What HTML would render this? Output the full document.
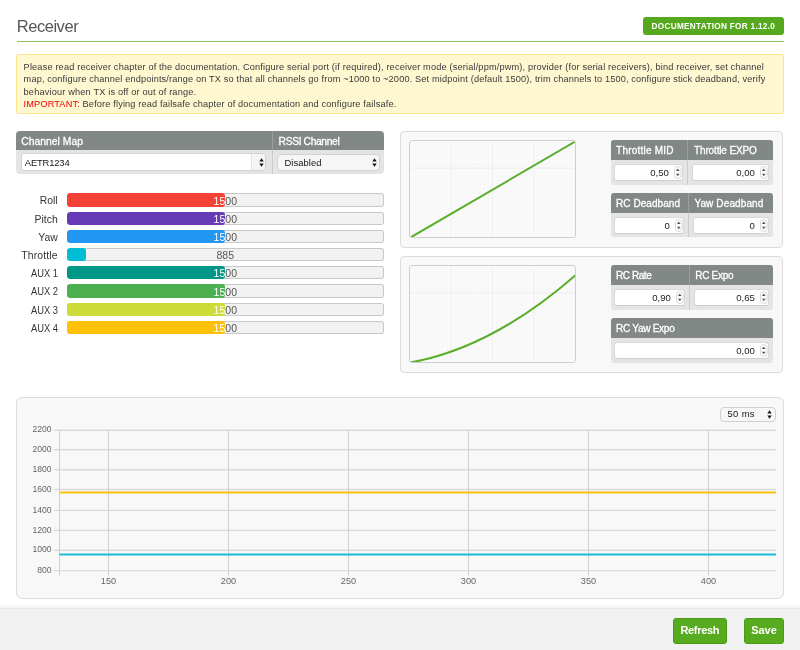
<!DOCTYPE html>
<html><head><meta charset="utf-8"><title>Receiver</title><style>
*{box-sizing:border-box;margin:0;padding:0}
html,body{width:800px;height:650px;overflow:hidden;background:#fff;font-family:"Liberation Sans",sans-serif;color:#404040}
.a{position:absolute}
.tx{position:absolute;white-space:nowrap;line-height:1;opacity:.999}
.hw{-webkit-text-stroke:0.3px #fff}
#note{left:16px;top:54px;width:768px;height:60px;background:#fef7d0;border:1px solid #fbe58a;border-radius:3px}
.nl{opacity:.999;position:absolute;left:23.6px;font-size:9.2px;color:#3a3a3a;white-space:nowrap;line-height:1}
.red{color:#f20000}
.hd{position:absolute;background:#828885}
.bd{position:absolute;background:#e4e4e4}
.sel{position:absolute;background:#fff;border:1px solid #d0d0d0;border-radius:3px}
.lab{opacity:.999;position:absolute;width:50px;text-align:right;font-size:10.4px;color:#333;line-height:1;white-space:nowrap}
.bar{position:absolute;left:66.6px;width:317.4px;height:13.3px;background:#c8c8c8;border-radius:3px;overflow:hidden}
.bar i{position:absolute;left:1px;top:1px;right:1px;bottom:1px;background:#f2f2f2;border-radius:2px}
.bar .f{position:absolute;left:0;top:0;bottom:0;overflow:hidden;border-radius:3px}
.bar .v{filter:grayscale(1);position:absolute;left:0;width:317.4px;top:2.4px;text-align:center;font-size:10.5px;line-height:1;color:#555;white-space:nowrap}
.bar .f .v{color:#fff}
.box{position:absolute;left:400px;width:383px;height:117px;background:#f8f8f8;border:1px solid #dcdcdc;border-radius:4px}
.chart{position:absolute;left:409px;width:167px;height:98px;border:1px solid #cfcfcf;border-radius:3px;background-color:#fafafa;overflow:hidden}
.inp{position:absolute;background:#fff;border:1px solid #d8d8d8;border-bottom-color:#cfcfcf;border-radius:3px}
.hdt{font-size:10px;color:#fff}
.val{font-size:9.6px;color:#222}
.yl{font-size:8.6px;color:#666;text-align:right}
.xl{font-size:9.2px;color:#666;text-align:center;width:40px;letter-spacing:0.1px}
.btn{opacity:.999;position:absolute;top:618px;height:25.5px;background:#56ab1e;border:1px solid #4b9a17;border-radius:3px;color:#fff;font-weight:bold;font-size:11px;text-align:center;line-height:22.5px;white-space:nowrap}
</style></head><body>
<div class="tx" style="left:16.7px;top:18px;font-size:16.5px;color:#555;letter-spacing:-0.45px">Receiver</div>
<div class="a" style="left:643px;top:17px;width:141px;height:18px;background:#56a91f;border-radius:3px"></div>
<div class="tx" style="left:651.6px;top:23.0px;font-size:8.2px;font-weight:bold;color:#fff;letter-spacing:0.31px">DOCUMENTATION FOR 1.12.0</div>
<div class="a" style="left:16.5px;top:41px;width:767px;height:1px;background:#8cc866"></div>
<div id="note" class="a"></div>
<div class="nl" style="top:62.7px;letter-spacing:0.165px">Please read receiver chapter of the documentation. Configure serial port (if required), receiver mode (serial/ppm/pwm), provider (for serial receivers), bind receiver, set channel</div>
<div class="nl" style="top:75.1px;letter-spacing:0.152px">map, configure channel endpoints/range on TX so that all channels go from ~1000 to ~2000. Set midpoint (default 1500), trim channels to 1500, configure stick deadband, verify</div>
<div class="nl" style="top:87.6px;letter-spacing:0.17px">behaviour when TX is off or out of range.</div>
<div class="nl" style="top:100.1px;letter-spacing:0.15px"><span class="red">IMPORTANT:</span> Before flying read failsafe chapter of documentation and configure failsafe.</div>
<div class="hd" style="left:16px;top:131px;width:368px;height:19px;border-radius:4px 4px 0 0"></div>
<div class="bd" style="left:16px;top:150px;width:368px;height:24px;border-radius:0 0 4px 4px"></div>
<div class="a" style="left:272px;top:131px;width:1px;height:19px;background:#9aa09c"></div>
<div class="a" style="left:272px;top:150px;width:1px;height:24px;background:#cbcbcb"></div>
<div class="tx hw" style="left:21.2px;top:136.9px;font-size:10.3px;color:#fff;letter-spacing:0.05px">Channel Map</div>
<div class="tx hw" style="left:278.6px;top:137.2px;font-size:10.3px;color:#fff;letter-spacing:-0.38px">RSSI Channel</div>
<div class="sel" style="left:21px;top:153px;width:245px;height:18px;background:#fff;border-color:#d2d2d2"></div>
<div class="a" style="left:251px;top:154px;width:14px;height:16px;background:#f5f5f5;border-left:1px solid #e2e2e2;border-radius:0 2px 2px 0"></div>
<svg class="a" style="left:258.6px;top:157.6px" width="5" height="9" viewBox="0 0 5 9"><path d="M2.5 0.2L4.7 3.5H0.3Z M2.5 8.8L4.7 5.5H0.3Z" fill="#151515"/></svg>
<div class="tx" style="left:24.8px;top:158.2px;font-size:9.4px;color:#151515;letter-spacing:-0.15px">AETR1234</div>
<div class="sel" style="left:277px;top:154px;width:103px;height:17px;background:#f6f6f6;border-color:#d2d2d2;border-radius:4px"></div>
<svg class="a" style="left:372px;top:157.6px" width="5" height="9" viewBox="0 0 5 9"><path d="M2.5 0.2L4.7 3.5H0.3Z M2.5 8.8L4.7 5.5H0.3Z" fill="#151515"/></svg>
<div class="tx" style="left:284.4px;top:158.2px;font-size:9.4px;color:#151515;letter-spacing:0.1px">Disabled</div>
<div class="lab" style="left:7.7px;top:196.3px;">Roll</div>
<div class="bar" style="top:193.3px"><i></i><div class="v">1500</div><div class="f" style="width:158.7px;background:#f44336"><div class="v">1500</div></div></div>
<div class="lab" style="left:7.7px;top:214.5px;">Pitch</div>
<div class="bar" style="top:211.5px"><i></i><div class="v">1500</div><div class="f" style="width:158.7px;background:#673ab7"><div class="v">1500</div></div></div>
<div class="lab" style="left:7.7px;top:232.7px;">Yaw</div>
<div class="bar" style="top:229.7px"><i></i><div class="v">1500</div><div class="f" style="width:158.7px;background:#2196f3"><div class="v">1500</div></div></div>
<div class="lab" style="left:7.7px;top:250.9px;letter-spacing:0.15px;">Throttle</div>
<div class="bar" style="top:247.9px"><i></i><div class="v">885</div><div class="f" style="width:19.3px;background:#00bcd4"><div class="v">885</div></div></div>
<div class="lab" style="left:7.7px;top:269.1px;transform:scaleX(0.9);transform-origin:right;">AUX 1</div>
<div class="bar" style="top:266.1px"><i></i><div class="v">1500</div><div class="f" style="width:158.7px;background:#009688"><div class="v">1500</div></div></div>
<div class="lab" style="left:7.7px;top:287.3px;transform:scaleX(0.9);transform-origin:right;">AUX 2</div>
<div class="bar" style="top:284.3px"><i></i><div class="v">1500</div><div class="f" style="width:158.7px;background:#4caf50"><div class="v">1500</div></div></div>
<div class="lab" style="left:7.7px;top:305.5px;transform:scaleX(0.9);transform-origin:right;">AUX 3</div>
<div class="bar" style="top:302.5px"><i></i><div class="v">1500</div><div class="f" style="width:158.7px;background:#cddc39"><div class="v">1500</div></div></div>
<div class="lab" style="left:7.7px;top:323.7px;transform:scaleX(0.9);transform-origin:right;">AUX 4</div>
<div class="bar" style="top:320.7px"><i></i><div class="v">1500</div><div class="f" style="width:158.7px;background:#ffc107"><div class="v">1500</div></div></div>
<div class="box" style="top:131px"></div>
<div class="box" style="top:256px"></div>
<div class="chart" style="top:140px"><svg width="166" height="98" style="position:absolute;left:0;top:0"><rect x="3.24" y="0" width="1" height="98" fill="#f7f7f7"/><rect x="7.38" y="0" width="1" height="98" fill="#f7f7f7"/><rect x="11.52" y="0" width="1" height="98" fill="#f7f7f7"/><rect x="15.66" y="0" width="1" height="98" fill="#f7f7f7"/><rect x="19.80" y="0" width="1" height="98" fill="#f7f7f7"/><rect x="23.94" y="0" width="1" height="98" fill="#f7f7f7"/><rect x="28.08" y="0" width="1" height="98" fill="#f7f7f7"/><rect x="32.22" y="0" width="1" height="98" fill="#f7f7f7"/><rect x="36.36" y="0" width="1" height="98" fill="#f7f7f7"/><rect x="40.50" y="0" width="1" height="98" fill="#eeeeee"/><rect x="44.64" y="0" width="1" height="98" fill="#f7f7f7"/><rect x="48.78" y="0" width="1" height="98" fill="#f7f7f7"/><rect x="52.92" y="0" width="1" height="98" fill="#f7f7f7"/><rect x="57.06" y="0" width="1" height="98" fill="#f7f7f7"/><rect x="61.20" y="0" width="1" height="98" fill="#f7f7f7"/><rect x="65.34" y="0" width="1" height="98" fill="#f7f7f7"/><rect x="69.48" y="0" width="1" height="98" fill="#f7f7f7"/><rect x="73.62" y="0" width="1" height="98" fill="#f7f7f7"/><rect x="77.76" y="0" width="1" height="98" fill="#f7f7f7"/><rect x="81.90" y="0" width="1" height="98" fill="#eeeeee"/><rect x="86.04" y="0" width="1" height="98" fill="#f7f7f7"/><rect x="90.18" y="0" width="1" height="98" fill="#f7f7f7"/><rect x="94.32" y="0" width="1" height="98" fill="#f7f7f7"/><rect x="98.46" y="0" width="1" height="98" fill="#f7f7f7"/><rect x="102.60" y="0" width="1" height="98" fill="#f7f7f7"/><rect x="106.74" y="0" width="1" height="98" fill="#f7f7f7"/><rect x="110.88" y="0" width="1" height="98" fill="#f7f7f7"/><rect x="115.02" y="0" width="1" height="98" fill="#f7f7f7"/><rect x="119.16" y="0" width="1" height="98" fill="#f7f7f7"/><rect x="123.30" y="0" width="1" height="98" fill="#eeeeee"/><rect x="127.44" y="0" width="1" height="98" fill="#f7f7f7"/><rect x="131.58" y="0" width="1" height="98" fill="#f7f7f7"/><rect x="135.72" y="0" width="1" height="98" fill="#f7f7f7"/><rect x="139.86" y="0" width="1" height="98" fill="#f7f7f7"/><rect x="144.00" y="0" width="1" height="98" fill="#f7f7f7"/><rect x="148.14" y="0" width="1" height="98" fill="#f7f7f7"/><rect x="152.28" y="0" width="1" height="98" fill="#f7f7f7"/><rect x="156.42" y="0" width="1" height="98" fill="#f7f7f7"/><rect x="160.56" y="0" width="1" height="98" fill="#f7f7f7"/><rect x="164.70" y="0" width="1" height="98" fill="#eeeeee"/><rect x="0" y="1.76" width="166" height="1" fill="#f7f7f7"/><rect x="0" y="5.90" width="166" height="1" fill="#f7f7f7"/><rect x="0" y="10.04" width="166" height="1" fill="#f7f7f7"/><rect x="0" y="14.18" width="166" height="1" fill="#f7f7f7"/><rect x="0" y="18.32" width="166" height="1" fill="#f7f7f7"/><rect x="0" y="22.46" width="166" height="1" fill="#f7f7f7"/><rect x="0" y="26.60" width="166" height="1" fill="#eeeeee"/><rect x="0" y="30.74" width="166" height="1" fill="#f7f7f7"/><rect x="0" y="34.88" width="166" height="1" fill="#f7f7f7"/><rect x="0" y="39.02" width="166" height="1" fill="#f7f7f7"/><rect x="0" y="43.16" width="166" height="1" fill="#f7f7f7"/><rect x="0" y="47.30" width="166" height="1" fill="#f7f7f7"/><rect x="0" y="51.44" width="166" height="1" fill="#f7f7f7"/><rect x="0" y="55.58" width="166" height="1" fill="#f7f7f7"/><rect x="0" y="59.72" width="166" height="1" fill="#f7f7f7"/><rect x="0" y="63.86" width="166" height="1" fill="#f7f7f7"/><rect x="0" y="68.00" width="166" height="1" fill="#f7f7f7"/><rect x="0" y="72.14" width="166" height="1" fill="#f7f7f7"/><rect x="0" y="76.28" width="166" height="1" fill="#f7f7f7"/><rect x="0" y="80.42" width="166" height="1" fill="#f7f7f7"/><rect x="0" y="84.56" width="166" height="1" fill="#f7f7f7"/><rect x="0" y="88.70" width="166" height="1" fill="#f7f7f7"/><rect x="0" y="92.84" width="166" height="1" fill="#f7f7f7"/><rect x="0" y="96.98" width="166" height="1" fill="#f7f7f7"/><path d="M0.3 96.6 L165.5 0.4" stroke="#5aae2a" stroke-width="2" fill="none" stroke-linecap="round"/></svg></div>
<div class="chart" style="top:265px"><svg width="166" height="98" style="position:absolute;left:0;top:0"><rect x="3.24" y="0" width="1" height="98" fill="#f7f7f7"/><rect x="7.38" y="0" width="1" height="98" fill="#f7f7f7"/><rect x="11.52" y="0" width="1" height="98" fill="#f7f7f7"/><rect x="15.66" y="0" width="1" height="98" fill="#f7f7f7"/><rect x="19.80" y="0" width="1" height="98" fill="#f7f7f7"/><rect x="23.94" y="0" width="1" height="98" fill="#f7f7f7"/><rect x="28.08" y="0" width="1" height="98" fill="#f7f7f7"/><rect x="32.22" y="0" width="1" height="98" fill="#f7f7f7"/><rect x="36.36" y="0" width="1" height="98" fill="#f7f7f7"/><rect x="40.50" y="0" width="1" height="98" fill="#eeeeee"/><rect x="44.64" y="0" width="1" height="98" fill="#f7f7f7"/><rect x="48.78" y="0" width="1" height="98" fill="#f7f7f7"/><rect x="52.92" y="0" width="1" height="98" fill="#f7f7f7"/><rect x="57.06" y="0" width="1" height="98" fill="#f7f7f7"/><rect x="61.20" y="0" width="1" height="98" fill="#f7f7f7"/><rect x="65.34" y="0" width="1" height="98" fill="#f7f7f7"/><rect x="69.48" y="0" width="1" height="98" fill="#f7f7f7"/><rect x="73.62" y="0" width="1" height="98" fill="#f7f7f7"/><rect x="77.76" y="0" width="1" height="98" fill="#f7f7f7"/><rect x="81.90" y="0" width="1" height="98" fill="#eeeeee"/><rect x="86.04" y="0" width="1" height="98" fill="#f7f7f7"/><rect x="90.18" y="0" width="1" height="98" fill="#f7f7f7"/><rect x="94.32" y="0" width="1" height="98" fill="#f7f7f7"/><rect x="98.46" y="0" width="1" height="98" fill="#f7f7f7"/><rect x="102.60" y="0" width="1" height="98" fill="#f7f7f7"/><rect x="106.74" y="0" width="1" height="98" fill="#f7f7f7"/><rect x="110.88" y="0" width="1" height="98" fill="#f7f7f7"/><rect x="115.02" y="0" width="1" height="98" fill="#f7f7f7"/><rect x="119.16" y="0" width="1" height="98" fill="#f7f7f7"/><rect x="123.30" y="0" width="1" height="98" fill="#eeeeee"/><rect x="127.44" y="0" width="1" height="98" fill="#f7f7f7"/><rect x="131.58" y="0" width="1" height="98" fill="#f7f7f7"/><rect x="135.72" y="0" width="1" height="98" fill="#f7f7f7"/><rect x="139.86" y="0" width="1" height="98" fill="#f7f7f7"/><rect x="144.00" y="0" width="1" height="98" fill="#f7f7f7"/><rect x="148.14" y="0" width="1" height="98" fill="#f7f7f7"/><rect x="152.28" y="0" width="1" height="98" fill="#f7f7f7"/><rect x="156.42" y="0" width="1" height="98" fill="#f7f7f7"/><rect x="160.56" y="0" width="1" height="98" fill="#f7f7f7"/><rect x="164.70" y="0" width="1" height="98" fill="#eeeeee"/><rect x="0" y="1.76" width="166" height="1" fill="#f7f7f7"/><rect x="0" y="5.90" width="166" height="1" fill="#f7f7f7"/><rect x="0" y="10.04" width="166" height="1" fill="#f7f7f7"/><rect x="0" y="14.18" width="166" height="1" fill="#f7f7f7"/><rect x="0" y="18.32" width="166" height="1" fill="#f7f7f7"/><rect x="0" y="22.46" width="166" height="1" fill="#f7f7f7"/><rect x="0" y="26.60" width="166" height="1" fill="#eeeeee"/><rect x="0" y="30.74" width="166" height="1" fill="#f7f7f7"/><rect x="0" y="34.88" width="166" height="1" fill="#f7f7f7"/><rect x="0" y="39.02" width="166" height="1" fill="#f7f7f7"/><rect x="0" y="43.16" width="166" height="1" fill="#f7f7f7"/><rect x="0" y="47.30" width="166" height="1" fill="#f7f7f7"/><rect x="0" y="51.44" width="166" height="1" fill="#f7f7f7"/><rect x="0" y="55.58" width="166" height="1" fill="#f7f7f7"/><rect x="0" y="59.72" width="166" height="1" fill="#f7f7f7"/><rect x="0" y="63.86" width="166" height="1" fill="#f7f7f7"/><rect x="0" y="68.00" width="166" height="1" fill="#f7f7f7"/><rect x="0" y="72.14" width="166" height="1" fill="#f7f7f7"/><rect x="0" y="76.28" width="166" height="1" fill="#f7f7f7"/><rect x="0" y="80.42" width="166" height="1" fill="#f7f7f7"/><rect x="0" y="84.56" width="166" height="1" fill="#f7f7f7"/><rect x="0" y="88.70" width="166" height="1" fill="#f7f7f7"/><rect x="0" y="92.84" width="166" height="1" fill="#f7f7f7"/><rect x="0" y="96.98" width="166" height="1" fill="#f7f7f7"/><path d="M0.3 96.6 Q82.7 81.6 165.5 9.2" stroke="#5aae2a" stroke-width="2" fill="none" stroke-linecap="round"/></svg></div>
<div class="hd" style="left:611px;top:140px;width:162px;height:20px;border-radius:3px 3px 0 0"></div>
<div class="bd" style="left:611px;top:160px;width:162px;height:25px;border-radius:0 0 3px 3px"></div>
<div class="a" style="left:687px;top:140px;width:1px;height:20px;background:#9aa09c"></div>
<div class="a" style="left:687px;top:160px;width:1px;height:25px;background:#cbcbcb"></div>
<div class="tx hdt hw" style="left:616.1px;top:146.3px;letter-spacing:0.21px">Throttle MID</div>
<div class="inp" style="left:614px;top:164px;width:69px;height:17px"></div>
<div class="tx val" style="right:131.2px;top:167.6px">0,50</div>
<svg class="a" width="8" height="13" viewBox="0 0 8 13" style="left:674.2px;top:166.1px"><rect x="0.5" y="0.5" width="6.6" height="12" rx="3.3" fill="#fff" stroke="#d6d6d6"/><path d="M3.8 2.5L5.7 5H1.9Z M3.8 10.2L5.7 7.7H1.9Z" fill="#5c5c5c"/></svg>
<div class="tx hdt hw" style="left:694.0px;top:146.3px;letter-spacing:-0.14px">Throttle EXPO</div>
<div class="inp" style="left:692px;top:164px;width:77px;height:17px"></div>
<div class="tx val" style="right:45.2px;top:167.6px">0,00</div>
<svg class="a" width="8" height="13" viewBox="0 0 8 13" style="left:760.2px;top:166.1px"><rect x="0.5" y="0.5" width="6.6" height="12" rx="3.3" fill="#fff" stroke="#d6d6d6"/><path d="M3.8 2.5L5.7 5H1.9Z M3.8 10.2L5.7 7.7H1.9Z" fill="#5c5c5c"/></svg>
<div class="hd" style="left:611px;top:193px;width:162px;height:20px;border-radius:3px 3px 0 0"></div>
<div class="bd" style="left:611px;top:213px;width:162px;height:24px;border-radius:0 0 3px 3px"></div>
<div class="a" style="left:688px;top:193px;width:1px;height:20px;background:#9aa09c"></div>
<div class="a" style="left:688px;top:213px;width:1px;height:24px;background:#cbcbcb"></div>
<div class="tx hdt hw" style="left:616.0px;top:199.3px;letter-spacing:0.06px">RC Deadband</div>
<div class="inp" style="left:614px;top:217px;width:70px;height:17px"></div>
<div class="tx val" style="right:130.2px;top:220.6px">0</div>
<svg class="a" width="8" height="13" viewBox="0 0 8 13" style="left:675.2px;top:219.1px"><rect x="0.5" y="0.5" width="6.6" height="12" rx="3.3" fill="#fff" stroke="#d6d6d6"/><path d="M3.8 2.5L5.7 5H1.9Z M3.8 10.2L5.7 7.7H1.9Z" fill="#5c5c5c"/></svg>
<div class="tx hdt hw" style="left:694.4px;top:199.3px;letter-spacing:0.12px">Yaw Deadband</div>
<div class="inp" style="left:693px;top:217px;width:76px;height:17px"></div>
<div class="tx val" style="right:45.2px;top:220.6px">0</div>
<svg class="a" width="8" height="13" viewBox="0 0 8 13" style="left:760.2px;top:219.1px"><rect x="0.5" y="0.5" width="6.6" height="12" rx="3.3" fill="#fff" stroke="#d6d6d6"/><path d="M3.8 2.5L5.7 5H1.9Z M3.8 10.2L5.7 7.7H1.9Z" fill="#5c5c5c"/></svg>
<div class="hd" style="left:611px;top:265px;width:162px;height:20px;border-radius:3px 3px 0 0"></div>
<div class="bd" style="left:611px;top:285px;width:162px;height:25px;border-radius:0 0 3px 3px"></div>
<div class="a" style="left:689px;top:265px;width:1px;height:20px;background:#9aa09c"></div>
<div class="a" style="left:689px;top:285px;width:1px;height:25px;background:#cbcbcb"></div>
<div class="tx hdt hw" style="left:616.0px;top:271.3px;letter-spacing:-0.43px">RC Rate</div>
<div class="inp" style="left:614px;top:289px;width:71px;height:17px"></div>
<div class="tx val" style="right:129.2px;top:292.6px">0,90</div>
<svg class="a" width="8" height="13" viewBox="0 0 8 13" style="left:676.2px;top:291.1px"><rect x="0.5" y="0.5" width="6.6" height="12" rx="3.3" fill="#fff" stroke="#d6d6d6"/><path d="M3.8 2.5L5.7 5H1.9Z M3.8 10.2L5.7 7.7H1.9Z" fill="#5c5c5c"/></svg>
<div class="tx hdt hw" style="left:695.3px;top:271.3px;letter-spacing:-0.3px">RC Expo</div>
<div class="inp" style="left:694px;top:289px;width:75px;height:17px"></div>
<div class="tx val" style="right:45.2px;top:292.6px">0,65</div>
<svg class="a" width="8" height="13" viewBox="0 0 8 13" style="left:760.2px;top:291.1px"><rect x="0.5" y="0.5" width="6.6" height="12" rx="3.3" fill="#fff" stroke="#d6d6d6"/><path d="M3.8 2.5L5.7 5H1.9Z M3.8 10.2L5.7 7.7H1.9Z" fill="#5c5c5c"/></svg>
<div class="hd" style="left:611px;top:318px;width:162px;height:20px;border-radius:3px 3px 0 0"></div>
<div class="bd" style="left:611px;top:338px;width:162px;height:25px;border-radius:0 0 3px 3px"></div>
<div class="tx hdt hw" style="left:616.0px;top:324.3px;letter-spacing:-0.26px">RC Yaw Expo</div>
<div class="inp" style="left:614px;top:342px;width:155px;height:17px"></div>
<div class="tx val" style="right:45.2px;top:345.6px">0,00</div>
<svg class="a" width="8" height="13" viewBox="0 0 8 13" style="left:760.2px;top:344.1px"><rect x="0.5" y="0.5" width="6.6" height="12" rx="3.3" fill="#fff" stroke="#d6d6d6"/><path d="M3.8 2.5L5.7 5H1.9Z M3.8 10.2L5.7 7.7H1.9Z" fill="#5c5c5c"/></svg>
<div class="a" style="left:16px;top:397px;width:768px;height:202px;background:#f8f8f8;border:1px solid #dcdcdc;border-radius:6px"></div>
<div class="sel" style="left:720px;top:407px;width:56px;height:15px;background:#f7f7f7;border-color:#d0d0d0;border-radius:4px"></div>
<svg class="a" style="left:767px;top:409.6px" width="5" height="9" viewBox="0 0 5 9"><path d="M2.5 0.2L4.7 3.5H0.3Z M2.5 8.8L4.7 5.5H0.3Z" fill="#151515"/></svg>
<div class="tx" style="left:727.6px;top:409.4px;font-size:9.4px;color:#151515;letter-spacing:0.2px;word-spacing:0.4px">50 ms</div>
<svg class="a" style="left:0;top:0" width="800" height="650"><line x1="54" y1="430.20" x2="776" y2="430.20" stroke="#dadada" stroke-width="1.4"/><line x1="54" y1="449.80" x2="776" y2="449.80" stroke="#dadada" stroke-width="1.4"/><line x1="54" y1="469.80" x2="776" y2="469.80" stroke="#dadada" stroke-width="1.4"/><line x1="54" y1="489.50" x2="776" y2="489.50" stroke="#dadada" stroke-width="1.4"/><line x1="54" y1="510.40" x2="776" y2="510.40" stroke="#dadada" stroke-width="1.4"/><line x1="54" y1="530.40" x2="776" y2="530.40" stroke="#dadada" stroke-width="1.4"/><line x1="54" y1="550.20" x2="776" y2="550.20" stroke="#dadada" stroke-width="1.4"/><line x1="54" y1="570.60" x2="776" y2="570.60" stroke="#dadada" stroke-width="1.4"/><line x1="59.5" y1="430" x2="59.5" y2="575.5" stroke="#d0d0d0" stroke-width="1"/><line x1="108.5" y1="430" x2="108.5" y2="575.5" stroke="#d0d0d0" stroke-width="1"/><line x1="228.5" y1="430" x2="228.5" y2="575.5" stroke="#d0d0d0" stroke-width="1"/><line x1="348.5" y1="430" x2="348.5" y2="575.5" stroke="#d0d0d0" stroke-width="1"/><line x1="468.5" y1="430" x2="468.5" y2="575.5" stroke="#d0d0d0" stroke-width="1"/><line x1="588.5" y1="430" x2="588.5" y2="575.5" stroke="#d0d0d0" stroke-width="1"/><line x1="708.5" y1="430" x2="708.5" y2="575.5" stroke="#d0d0d0" stroke-width="1"/><line x1="59.5" y1="492.6" x2="776" y2="492.6" stroke="#fcc10e" stroke-width="2"/><line x1="59.5" y1="554.6" x2="776" y2="554.6" stroke="#18bcd4" stroke-width="2"/></svg>
<div class="tx yl" style="right:748.4px;top:425.3px">2200</div>
<div class="tx yl" style="right:748.4px;top:444.9px">2000</div>
<div class="tx yl" style="right:748.4px;top:464.9px">1800</div>
<div class="tx yl" style="right:748.4px;top:484.6px">1600</div>
<div class="tx yl" style="right:748.4px;top:505.5px">1400</div>
<div class="tx yl" style="right:748.4px;top:525.5px">1200</div>
<div class="tx yl" style="right:748.4px;top:545.3px">1000</div>
<div class="tx yl" style="right:748.4px;top:565.7px">800</div>
<div class="tx xl" style="left:88.5px;top:576.9px">150</div>
<div class="tx xl" style="left:208.5px;top:576.9px">200</div>
<div class="tx xl" style="left:328.5px;top:576.9px">250</div>
<div class="tx xl" style="left:448.5px;top:576.9px">300</div>
<div class="tx xl" style="left:568.5px;top:576.9px">350</div>
<div class="tx xl" style="left:688.5px;top:576.9px">400</div>
<div class="a" style="left:0;top:603px;width:800px;height:6px;background:linear-gradient(#fff,#f2f2f2)"></div>
<div class="a" style="left:0;top:608px;width:800px;height:42px;background:#f1f1f1;border-top:1px solid #e8e8e8"></div>
<div class="btn" style="left:673px;width:54px;letter-spacing:-0.3px;text-indent:-0.3px">Refresh</div>
<div class="btn" style="left:744px;width:40px">Save</div>
</body></html>
